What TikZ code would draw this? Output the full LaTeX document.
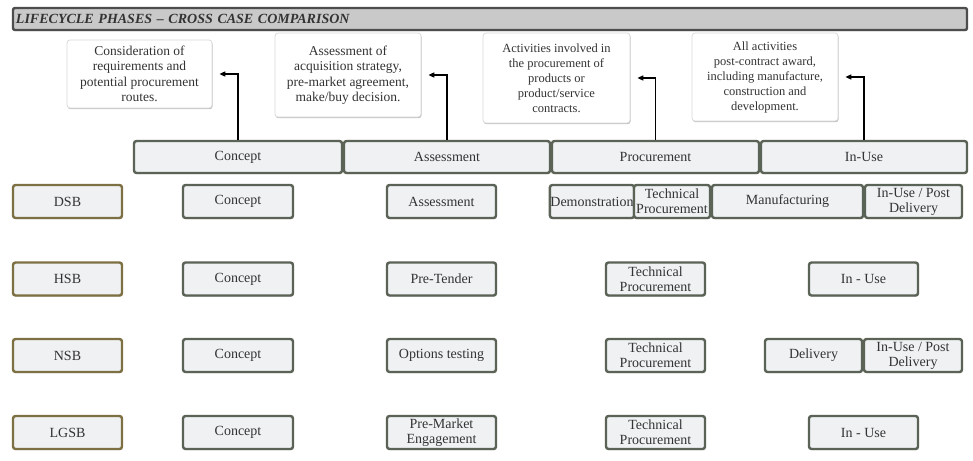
\documentclass[tikz,border=0pt]{standalone}
\usepackage{fontspec}
\setmainfont{Liberation Serif}
\usetikzlibrary{arrows.meta,shadows}

\definecolor{cellfill}{HTML}{EFF1F3}
\definecolor{cellline}{HTML}{5A6355}
\definecolor{caseline}{HTML}{7D7042}
\definecolor{titlefill}{HTML}{C9C9C9}
\definecolor{titleline}{HTML}{4D4D4D}
\definecolor{noteline}{HTML}{D8D8D8}
\definecolor{inktext}{HTML}{333333}

\begin{document}
\begin{tikzpicture}[x=1pt,y=-1pt,
  softshadow/.style={drop shadow={shadow xshift=0.6pt, shadow yshift=-1.2pt, opacity=0.25, fill=black}},
  cell/.style={draw=cellline, fill=cellfill, line width=2.4pt, rounded corners=2.5pt,
    minimum height=33pt, inner sep=0.5pt, align=center, text=inktext,
    font=\fontsize{14}{15}\selectfont, softshadow},
  casebox/.style={cell, draw=caseline},
  phase/.style={cell, minimum height=32pt},
  note/.style={draw=noteline, fill=white, line width=0.7pt, rounded corners=3pt,
    align=center, text=inktext, inner sep=2pt,
    font=\fontsize{13.5}{15.5}\selectfont, softshadow},
  widenote/.style={note, font=\fontsize{12.5}{15}\selectfont},
  banner/.style={draw=titleline, fill=titlefill, line width=2.4pt, rounded corners=2pt,
    minimum height=22pt, inner sep=3pt, text width=948pt, align=left, text=inktext,
    font=\fontsize{14}{15}\selectfont\bfseries\itshape, softshadow},
  flow/.style={draw=black, line width=1.8pt, shorten >=7pt,
    -{Triangle[length=6pt,width=5pt]}}]
\useasboundingbox[fill=white] (0,0) rectangle (973,460);

% description boxes above the phase bar
\node[note, minimum width=145pt, minimum height=68pt] (n1) at (139.5,74)
  {Consideration of\\requirements and\\potential procurement\\routes.};
\node[note, minimum width=146pt, minimum height=84pt] (n2) at (348,75)
  {Assessment of\\acquisition strategy,\\pre-market agreement,\\make/buy decision.};
\node[widenote, minimum width=147pt, minimum height=90pt] (n3) at (556.5,78)
  {Activities involved in\\the procurement of\\products or\\product/service\\contracts.};
\node[widenote, minimum width=146pt, minimum height=88pt] (n4) at (765,77)
  {All activities\\post-contract award,\\including manufacture,\\construction and\\development.};

% heading banner
\node[banner, minimum width=954pt] (title) at (490,19)
  {LIFECYCLE PHASES – CROSS CASE COMPARISON};

% phase bar
\node[phase, minimum width=208pt] (ph1) at (238,157) {Concept};
\node[phase, minimum width=206pt] (ph2) at (447,157) {Assessment};
\node[phase, minimum width=207pt] (ph3) at (655.5,157) {Procurement};
\node[phase, minimum width=206pt] (ph4) at (864,157) {In-Use};

% links from each phase to its description
\draw[flow] (ph1.north) |- (n1.east);
\draw[flow] (ph2.north) |- (n2.east);
\draw[flow] (ph3.north) |- (n3.east);
\draw[flow] (ph4.north) |- (n4.east);

% case labels
\node[casebox, minimum width=109pt] (dsb)  at (67.5,201.5) {DSB};
\node[casebox, minimum width=109pt] (hsb)  at (67.5,279)   {HSB};
\node[casebox, minimum width=109pt] (nsb)  at (67.5,355.5) {NSB};
\node[casebox, minimum width=109pt] (lgsb) at (67.5,432.5) {LGSB};

% DSB row
\node[cell, minimum width=110pt] (d1) at (238,201.5) {Concept};
\node[cell, minimum width=109pt] (d2) at (441.5,201.5) {Assessment};
\node[cell, minimum width=80pt]  (d3) at (592,201.5) {Demonstration};
\node[cell, minimum width=76pt]  (d4) at (672,201.5) {Technical\\Procurement};
\node[cell, minimum width=151pt] (d5) at (787.5,201.5) {Manufacturing};
\node[cell, minimum width=97pt]  (d6) at (913.5,201.5) {In-Use / Post\\Delivery};

% HSB row
\node[cell, minimum width=110pt] (h1) at (238,279) {Concept};
\node[cell, minimum width=109pt] (h2) at (441.5,279) {Pre-Tender};
\node[cell, minimum width=99pt]  (h3) at (655.5,279) {Technical\\Procurement};
\node[cell, minimum width=109pt] (h4) at (863.5,279) {In - Use};

% NSB row
\node[cell, minimum width=110pt] (s1) at (238,355.5) {Concept};
\node[cell, minimum width=109pt] (s2) at (441.5,355.5) {Options testing};
\node[cell, minimum width=99pt]  (s3) at (655.5,355.5) {Technical\\Procurement};
\node[cell, minimum width=97pt]  (s4) at (813.5,355.5) {Delivery};
\node[cell, minimum width=98pt]  (s5) at (913,355.5) {In-Use / Post\\Delivery};

% LGSB row
\node[cell, minimum width=110pt] (g1) at (238,432.5) {Concept};
\node[cell, minimum width=109pt] (g2) at (441.5,432.5) {Pre-Market\\Engagement};
\node[cell, minimum width=99pt]  (g3) at (655.5,432.5) {Technical\\Procurement};
\node[cell, minimum width=109pt] (g4) at (863.5,432.5) {In - Use};
\end{tikzpicture}
\end{document}
